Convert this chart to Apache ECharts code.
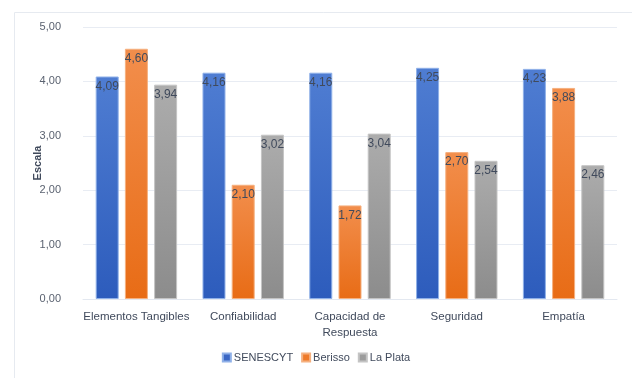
<!DOCTYPE html>
<html>
<head>
<meta charset="utf-8">
<script src="https://cdn.jsdelivr.net/npm/echarts@6/dist/echarts.min.js"></script>
<style>
  html, body { margin: 0; padding: 0; background: #fff; }
  #chart { width: 632px; height: 378px; }
</style>
</head>
<body>
<div id="chart"></div>
<script>
const categories = ['Elementos Tangibles', 'Confiabilidad', 'Capacidad de\nRespuesta', 'Seguridad', 'Empatía']
const senescyt = [4.09, 4.16, 4.16, 4.25, 4.23]
const berisso = [4.60, 2.10, 1.72, 2.70, 3.88]
const laPlata = [3.94, 3.02, 3.04, 2.54, 2.46]

const FONT = '"Liberation Sans Narrow", "Liberation Sans", sans-serif'

function grad(top, bottom) {
  return new echarts.graphic.LinearGradient(0, 0, 0, 1, [
    { offset: 0, color: top },
    { offset: 1, color: bottom }
  ])
}

function fmt(v) {
  return v.toFixed(2).replace('.', ',')
}

function barSeries(name, data, top, bottom, border) {
  return {
    name: name,
    type: 'bar',
    data: data,
    barWidth: 23,
    barGap: '27%',
    itemStyle: {
      color: grad(top, bottom),
      borderColor: border,
      borderWidth: 1
    },
    label: {
      show: true,
      position: 'insideTop',
      distance: 4,
      color: '#404a5c',
      fontFamily: FONT,
      fontSize: 12,
      formatter: (p) => fmt(p.value)
    }
  }
}

const chart = echarts.init(document.getElementById('chart'))
chart.setOption({
  backgroundColor: '#fff',
  animation: false,
  graphic: [
    {
      type: 'rect',
      left: 12,
      top: 10,
      shape: { width: 640, height: 400 },
      style: { fill: 'none', stroke: '#e6eaf0', lineWidth: 1 },
      silent: true
    }
  ],
  grid: {
    top: 27,
    left: 83,
    right: 15,
    bottom: 79
  },
  legend: {
    bottom: 10,
    left: 'center',
    itemWidth: 8,
    itemHeight: 8,
    itemGap: 8,
    icon: 'rect',
    textStyle: {
      color: '#404a5c',
      fontFamily: FONT,
      fontSize: 11,
      padding: [0, 0, 0, -2]
    },
    data: [
      { name: 'SENESCYT', itemStyle: { color: '#3a66c4' } },
      { name: 'Berisso', itemStyle: { color: '#ee7a2a' } },
      { name: 'La Plata', itemStyle: { color: '#9c9c9c' } }
    ]
  },
  xAxis: {
    type: 'category',
    data: categories,
    axisTick: { show: false },
    axisLine: { lineStyle: { color: '#e3e8f0' } },
    axisLabel: {
      color: '#404a5c',
      fontFamily: FONT,
      fontSize: 11.5,
      margin: 10,
      lineHeight: 16,
      interval: 0
    }
  },
  yAxis: {
    type: 'value',
    min: 0,
    max: 5,
    interval: 1,
    name: 'Escala',
    nameLocation: 'middle',
    nameGap: 40,
    nameMoveOverlap: false,
    nameTextStyle: {
      color: '#404a5c',
      fontFamily: FONT,
      fontSize: 11,
      fontWeight: 'bold'
    },
    axisLabel: {
      color: '#5a6270',
      fontFamily: FONT,
      fontSize: 11,
      margin: 22,
      formatter: (v) => fmt(v)
    },
    axisLine: { show: false },
    splitLine: { lineStyle: { color: '#e8ecf3' } }
  },
  series: [
    barSeries('SENESCYT', senescyt, '#4f7dd2', '#2d5cbc', '#8fb0e8'),
    barSeries('Berisso', berisso, '#f28e4c', '#e86c16', '#f5b07f'),
    barSeries('La Plata', laPlata, '#acacac', '#8c8c8c', '#c4c4c4')
  ]
})
</script>
</body>
</html>
